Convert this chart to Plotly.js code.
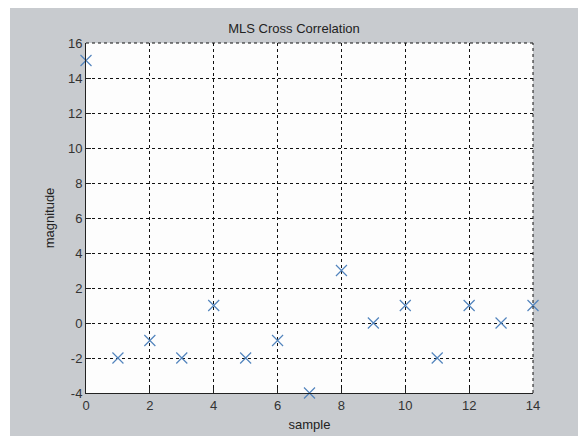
<!DOCTYPE html>
<html>
<head>
<meta charset="utf-8">
<script src="https://cdn.plot.ly/plotly-3.0.1.min.js"></script>
<style>
  html, body { margin: 0; padding: 0; background: #ffffff; }
  #fig { position: absolute; left: 10px; top: 8px; width: 568px; height: 428px; }
</style>
</head>
<body>
<div id="fig"></div>
<script>
// Cross-correlation of the MLS sequence, one value per sample lag
const samples = [0, 1, 2, 3, 4, 5, 6, 7, 8, 9, 10, 11, 12, 13, 14];
const magnitude = [15, -2, -1, -2, 1, -2, -1, -4, 3, 0, 1, -2, 1, 0, 1];
const xTicks = [0, 2, 4, 6, 8, 10, 12, 14];
const yTicks = [-4, -2, 0, 2, 4, 6, 8, 10, 12, 14, 16];

const figGray = '#c8cbcf';
const fontFamily = 'Liberation Sans, Arial, sans-serif';
const tickFont = { family: fontFamily, size: 13, color: '#333333' };
const labelFont = { family: fontFamily, size: 13, color: '#222222' };

const trace = {
  x: samples,
  y: magnitude,
  type: 'scatter',
  mode: 'markers',
  marker: {
    symbol: 'x-thin-open',
    size: 11,
    color: '#5284bd',
    line: { color: '#5284bd', width: 1.2 }
  },
  cliponaxis: false,
  hoverinfo: 'x+y'
};

const gridStyle = {
  showgrid: true,
  gridcolor: '#111111',
  gridwidth: 1,
  griddash: '3px,3px',
  zeroline: false,
  showline: true,
  linecolor: '#222222',
  linewidth: 1,
  ticks: 'inside',
  ticklen: 5,
  tickcolor: '#222222',
  tickfont: tickFont
};

const layout = {
  width: 568,
  height: 428,
  paper_bgcolor: figGray,
  plot_bgcolor: '#fdfdfd',
  margin: { l: 76, r: 45, t: 35, b: 43 },
  showlegend: false,
  title: {
    text: 'MLS Cross Correlation',
    font: labelFont,
    x: 0.5,
    xanchor: 'center',
    y: 1,
    yref: 'paper',
    yanchor: 'bottom',
    pad: { b: 10 }
  },
  xaxis: Object.assign({}, gridStyle, {
    range: [0, 14],
    tickvals: xTicks,
    ticktext: xTicks.map(String),
    title: { text: 'sample', font: labelFont, standoff: 8 }
  }),
  yaxis: Object.assign({}, gridStyle, {
    range: [-4, 16],
    tickvals: yTicks,
    ticktext: yTicks.map(String),
    title: { text: 'magnitude', font: labelFont, standoff: 10 }
  }),
  shapes: [
    // dashed top and right frame edges
    { type: 'line', xref: 'paper', yref: 'paper', x0: 0, x1: 1, y0: 1, y1: 1,
      line: { color: '#111111', width: 1, dash: '3px,3px' } },
    { type: 'line', xref: 'paper', yref: 'paper', x0: 1, x1: 1, y0: 0, y1: 1,
      line: { color: '#111111', width: 1, dash: '3px,3px' } }
  ]
};

Plotly.newPlot('fig', [trace], layout, { displayModeBar: false, staticPlot: true });
</script>
</body>
</html>
